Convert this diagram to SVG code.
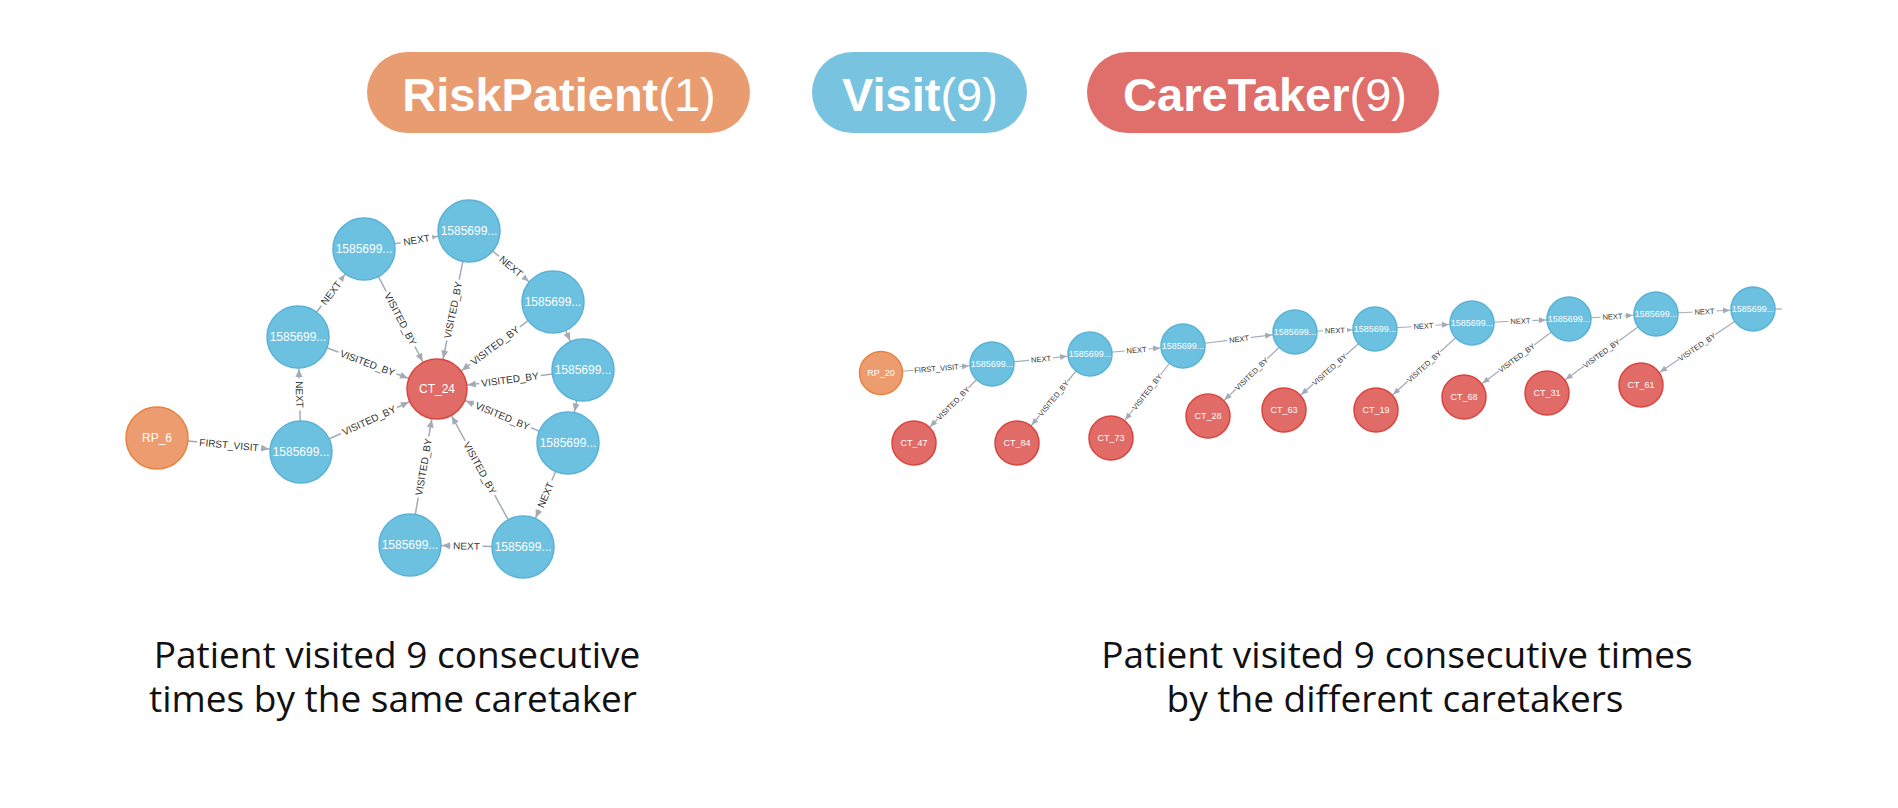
<svg xmlns="http://www.w3.org/2000/svg" width="1898" height="808" viewBox="0 0 1898 808">
<style>
.bg{fill:#fff}
.pill-t{font-family:"Liberation Sans",Arial,Helvetica,sans-serif;font-size:47px;fill:#fff;text-anchor:middle}
.b{font-weight:bold}
.vis{fill:#6CC1E0;stroke:#5BB2D6;stroke-width:1.5}
.ct{fill:#E16B67;stroke:#D8453F;stroke-width:1.5}
.rp{fill:#EC9C6E;stroke:#E7823F;stroke-width:1.5}
.ntL{font-family:"Liberation Sans",Arial,sans-serif;font-size:12px;fill:#fff;text-anchor:middle}
.ntR{font-family:"Liberation Sans",Arial,sans-serif;font-size:9px;fill:#fff;text-anchor:middle}
.eL{stroke:#A5ABB6;stroke-width:1.5;fill:none}
.eR{stroke:#A5ABB6;stroke-width:1.2;fill:none}
.lbL text{font-family:"Liberation Sans",Arial,sans-serif;font-size:10px;fill:#333;text-anchor:middle}
.lbR text{font-family:"Liberation Sans",Arial,sans-serif;font-size:7.5px;fill:#333;text-anchor:middle}
.lbL rect,.lbR rect{fill:#fff}
.cap{font-family:"Open Sans","Noto Sans",sans-serif;font-size:37px;fill:#111;text-anchor:middle}
</style>
<defs>
<marker id="aV" markerUnits="userSpaceOnUse" markerWidth="50" markerHeight="10" refX="40" refY="3.5" orient="auto" overflow="visible"><path d="M0,0 L8,3.5 L0,7 z" fill="#A5ABB6"/></marker>
<marker id="aC" markerUnits="userSpaceOnUse" markerWidth="50" markerHeight="10" refX="39" refY="3.5" orient="auto" overflow="visible"><path d="M0,0 L8,3.5 L0,7 z" fill="#A5ABB6"/></marker>
<marker id="aR" markerUnits="userSpaceOnUse" markerWidth="40" markerHeight="8" refX="30" refY="3" orient="auto" overflow="visible"><path d="M0,0 L7,3 L0,6 z" fill="#A5ABB6"/></marker>
</defs>
<rect class="bg" x="0" y="0" width="1898" height="808"/>

<g id="legend">
<g id="legend-riskpatient"><rect x="367" y="52" width="383" height="81" rx="40.5" fill="#EA9C71"/><text class="pill-t" x="559" y="111"><tspan class="b">RiskPatient</tspan>(1)</text></g>
<g id="legend-visit"><rect x="812" y="52" width="215" height="81" rx="40.5" fill="#78C3E0"/><text class="pill-t" x="920" y="111"><tspan class="b">Visit</tspan>(9)</text></g>
<g id="legend-caretaker"><rect x="1087" y="52" width="352" height="81" rx="40.5" fill="#E06E6B"/><text class="pill-t" x="1265" y="111"><tspan class="b">CareTaker</tspan>(9)</text></g>
</g>

<!-- LEFT GRAPH -->
<g id="connectors-left">
<line class="eL" x1="157" y1="438" x2="301" y2="452" marker-end="url(#aV)"/>
<line class="eL" x1="301" y1="452" x2="298" y2="337" marker-end="url(#aV)"/>
<line class="eL" x1="298" y1="337" x2="364" y2="249" marker-end="url(#aV)"/>
<line class="eL" x1="364" y1="249" x2="469" y2="231" marker-end="url(#aV)"/>
<line class="eL" x1="469" y1="231" x2="553" y2="302" marker-end="url(#aV)"/>
<line class="eL" x1="553" y1="302" x2="583" y2="370" marker-end="url(#aV)"/>
<line class="eL" x1="583" y1="370" x2="568" y2="443" marker-end="url(#aV)"/>
<line class="eL" x1="568" y1="443" x2="523" y2="547" marker-end="url(#aV)"/>
<line class="eL" x1="523" y1="547" x2="410" y2="545" marker-end="url(#aV)"/>
<line class="eL" x1="301" y1="452" x2="437" y2="389" marker-end="url(#aC)"/>
<line class="eL" x1="298" y1="337" x2="437" y2="389" marker-end="url(#aC)"/>
<line class="eL" x1="364" y1="249" x2="437" y2="389" marker-end="url(#aC)"/>
<line class="eL" x1="469" y1="231" x2="437" y2="389" marker-end="url(#aC)"/>
<line class="eL" x1="553" y1="302" x2="437" y2="389" marker-end="url(#aC)"/>
<line class="eL" x1="583" y1="370" x2="437" y2="389" marker-end="url(#aC)"/>
<line class="eL" x1="568" y1="443" x2="437" y2="389" marker-end="url(#aC)"/>
<line class="eL" x1="523" y1="547" x2="437" y2="389" marker-end="url(#aC)"/>
<line class="eL" x1="410" y1="545" x2="437" y2="389" marker-end="url(#aC)"/>
<g class="lbL">
<g transform="translate(229,445) rotate(5.5)"><rect x="-32" y="-6" width="64" height="12"/><text y="3.5">FIRST_VISIT</text></g>
<g transform="translate(299.5,394.5) rotate(88.5)"><rect x="-16" y="-6" width="32" height="12"/><text y="3.5">NEXT</text></g>
<g transform="translate(331,293) rotate(-53.1)"><rect x="-16" y="-6" width="32" height="12"/><text y="3.5">NEXT</text></g>
<g transform="translate(416.5,240) rotate(-9.7)"><rect x="-16" y="-6" width="32" height="12"/><text y="3.5">NEXT</text></g>
<g transform="translate(511,266.5) rotate(40.2)"><rect x="-16" y="-6" width="32" height="12"/><text y="3.5">NEXT</text></g>
<g transform="translate(545.5,495) rotate(-66.6)"><rect x="-16" y="-6" width="32" height="12"/><text y="3.5">NEXT</text></g>
<g transform="translate(466.5,546) rotate(1)"><rect x="-16" y="-6" width="32" height="12"/><text y="3.5">NEXT</text></g>
<g transform="translate(369,420.5) rotate(-24.9)"><rect x="-31" y="-6" width="62" height="12"/><text y="3.5">VISITED_BY</text></g>
<g transform="translate(367.5,363) rotate(20.5)"><rect x="-31" y="-6" width="62" height="12"/><text y="3.5">VISITED_BY</text></g>
<g transform="translate(400.5,319) rotate(62.5)"><rect x="-31" y="-6" width="62" height="12"/><text y="3.5">VISITED_BY</text></g>
<g transform="translate(453,310) rotate(-78.6)"><rect x="-31" y="-6" width="62" height="12"/><text y="3.5">VISITED_BY</text></g>
<g transform="translate(495,345.5) rotate(-36.9)"><rect x="-31" y="-6" width="62" height="12"/><text y="3.5">VISITED_BY</text></g>
<g transform="translate(510,379.5) rotate(-7.4)"><rect x="-31" y="-6" width="62" height="12"/><text y="3.5">VISITED_BY</text></g>
<g transform="translate(502.5,416) rotate(22.4)"><rect x="-31" y="-6" width="62" height="12"/><text y="3.5">VISITED_BY</text></g>
<g transform="translate(480,468) rotate(61.4)"><rect x="-31" y="-6" width="62" height="12"/><text y="3.5">VISITED_BY</text></g>
<g transform="translate(423.5,467) rotate(-80.2)"><rect x="-31" y="-6" width="62" height="12"/><text y="3.5">VISITED_BY</text></g>
</g>
</g>

<g id="L-RP_6"><circle class="rp" cx="157" cy="438" r="31"/><text class="ntL" x="157" y="442">RP_6</text></g>
<g id="L-CT_24"><circle class="ct" cx="437" cy="389" r="30"/><text class="ntL" x="437" y="393">CT_24</text></g>
<g id="L-V1"><circle class="vis" cx="301" cy="452" r="31"/><text class="ntL" x="301" y="456">1585699...</text></g>
<g id="L-V2"><circle class="vis" cx="298" cy="337" r="31"/><text class="ntL" x="298" y="341">1585699...</text></g>
<g id="L-V3"><circle class="vis" cx="364" cy="249" r="31"/><text class="ntL" x="364" y="253">1585699...</text></g>
<g id="L-V4"><circle class="vis" cx="469" cy="231" r="31"/><text class="ntL" x="469" y="235">1585699...</text></g>
<g id="L-V5"><circle class="vis" cx="553" cy="302" r="31"/><text class="ntL" x="553" y="306">1585699...</text></g>
<g id="L-V6"><circle class="vis" cx="583" cy="370" r="31"/><text class="ntL" x="583" y="374">1585699...</text></g>
<g id="L-V7"><circle class="vis" cx="568" cy="443" r="31"/><text class="ntL" x="568" y="447">1585699...</text></g>
<g id="L-V8"><circle class="vis" cx="523" cy="547" r="31"/><text class="ntL" x="523" y="551">1585699...</text></g>
<g id="L-V9"><circle class="vis" cx="410" cy="545" r="31"/><text class="ntL" x="410" y="549">1585699...</text></g>

<!-- RIGHT GRAPH -->
<g id="connectors-right">
<line class="eR" x1="881" y1="373" x2="992" y2="364" marker-end="url(#aR)"/>
<line class="eR" x1="992" y1="364" x2="1090" y2="354" marker-end="url(#aR)"/>
<line class="eR" x1="1090" y1="354" x2="1183" y2="346" marker-end="url(#aR)"/>
<line class="eR" x1="1183" y1="346" x2="1295" y2="332" marker-end="url(#aR)"/>
<line class="eR" x1="1295" y1="332" x2="1375" y2="329" marker-end="url(#aR)"/>
<line class="eR" x1="1375" y1="329" x2="1472" y2="323" marker-end="url(#aR)"/>
<line class="eR" x1="1472" y1="323" x2="1569" y2="319" marker-end="url(#aR)"/>
<line class="eR" x1="1569" y1="319" x2="1656" y2="314" marker-end="url(#aR)"/>
<line class="eR" x1="1656" y1="314" x2="1753" y2="309" marker-end="url(#aR)"/>
<line class="eR" x1="1770" y1="309" x2="1782" y2="309"/>
<line class="eR" x1="992" y1="364" x2="914" y2="443" marker-end="url(#aR)"/>
<line class="eR" x1="1090" y1="354" x2="1017" y2="443" marker-end="url(#aR)"/>
<line class="eR" x1="1183" y1="346" x2="1111" y2="438" marker-end="url(#aR)"/>
<line class="eR" x1="1295" y1="332" x2="1208" y2="416" marker-end="url(#aR)"/>
<line class="eR" x1="1375" y1="329" x2="1284" y2="410" marker-end="url(#aR)"/>
<line class="eR" x1="1472" y1="323" x2="1376" y2="410" marker-end="url(#aR)"/>
<line class="eR" x1="1569" y1="319" x2="1464" y2="397" marker-end="url(#aR)"/>
<line class="eR" x1="1656" y1="314" x2="1547" y2="393" marker-end="url(#aR)"/>
<line class="eR" x1="1753" y1="309" x2="1641" y2="385" marker-end="url(#aR)"/>
<g class="lbR">
<g transform="translate(936.5,368.5) rotate(-4.6)"><rect x="-23" y="-4.5" width="46" height="9"/><text y="2.7">FIRST_VISIT</text></g>
<g transform="translate(1041,359) rotate(-5.8)"><rect x="-12" y="-4.5" width="24" height="9"/><text y="2.7">NEXT</text></g>
<g transform="translate(1136.5,350) rotate(-4.9)"><rect x="-12" y="-4.5" width="24" height="9"/><text y="2.7">NEXT</text></g>
<g transform="translate(1239,339) rotate(-7.1)"><rect x="-12" y="-4.5" width="24" height="9"/><text y="2.7">NEXT</text></g>
<g transform="translate(1335,330.5) rotate(-2.1)"><rect x="-12" y="-4.5" width="24" height="9"/><text y="2.7">NEXT</text></g>
<g transform="translate(1423.5,326) rotate(-3.5)"><rect x="-12" y="-4.5" width="24" height="9"/><text y="2.7">NEXT</text></g>
<g transform="translate(1520.5,321) rotate(-2.4)"><rect x="-12" y="-4.5" width="24" height="9"/><text y="2.7">NEXT</text></g>
<g transform="translate(1612.5,316.5) rotate(-3.3)"><rect x="-12" y="-4.5" width="24" height="9"/><text y="2.7">NEXT</text></g>
<g transform="translate(1704.5,311.5) rotate(-3)"><rect x="-12" y="-4.5" width="24" height="9"/><text y="2.7">NEXT</text></g>
<g transform="translate(953,403.5) rotate(-45.4)"><rect x="-22" y="-4.5" width="44" height="9"/><text y="2.7">VISITED_BY</text></g>
<g transform="translate(1053.5,398.5) rotate(-50.6)"><rect x="-22" y="-4.5" width="44" height="9"/><text y="2.7">VISITED_BY</text></g>
<g transform="translate(1147,392) rotate(-52)"><rect x="-22" y="-4.5" width="44" height="9"/><text y="2.7">VISITED_BY</text></g>
<g transform="translate(1251.5,374) rotate(-44)"><rect x="-22" y="-4.5" width="44" height="9"/><text y="2.7">VISITED_BY</text></g>
<g transform="translate(1329.5,369.5) rotate(-41.7)"><rect x="-22" y="-4.5" width="44" height="9"/><text y="2.7">VISITED_BY</text></g>
<g transform="translate(1424,366.5) rotate(-42.2)"><rect x="-22" y="-4.5" width="44" height="9"/><text y="2.7">VISITED_BY</text></g>
<g transform="translate(1516.5,358) rotate(-36.6)"><rect x="-22" y="-4.5" width="44" height="9"/><text y="2.7">VISITED_BY</text></g>
<g transform="translate(1601.5,353.5) rotate(-36)"><rect x="-22" y="-4.5" width="44" height="9"/><text y="2.7">VISITED_BY</text></g>
<g transform="translate(1697,347) rotate(-34.2)"><rect x="-22" y="-4.5" width="44" height="9"/><text y="2.7">VISITED_BY</text></g>
</g>
</g>

<g id="R-RP_20"><circle class="rp" cx="881" cy="373" r="21.5"/><text class="ntR" x="881" y="376">RP_20</text></g>
<g id="R-V1"><circle class="vis" cx="992" cy="364" r="22"/><text class="ntR" x="992" y="367">1585699...</text></g>
<g id="R-V2"><circle class="vis" cx="1090" cy="354" r="22"/><text class="ntR" x="1090" y="357">1585699...</text></g>
<g id="R-V3"><circle class="vis" cx="1183" cy="346" r="22"/><text class="ntR" x="1183" y="349">1585699...</text></g>
<g id="R-V4"><circle class="vis" cx="1295" cy="332" r="22"/><text class="ntR" x="1295" y="335">1585699...</text></g>
<g id="R-V5"><circle class="vis" cx="1375" cy="329" r="22"/><text class="ntR" x="1375" y="332">1585699...</text></g>
<g id="R-V6"><circle class="vis" cx="1472" cy="323" r="22"/><text class="ntR" x="1472" y="326">1585699...</text></g>
<g id="R-V7"><circle class="vis" cx="1569" cy="319" r="22"/><text class="ntR" x="1569" y="322">1585699...</text></g>
<g id="R-V8"><circle class="vis" cx="1656" cy="314" r="22"/><text class="ntR" x="1656" y="317">1585699...</text></g>
<g id="R-V9"><circle class="vis" cx="1753" cy="309" r="22"/><text class="ntR" x="1753" y="312">1585699...</text></g>
<g id="R-CT_47"><circle class="ct" cx="914" cy="443" r="22"/><text class="ntR" x="914" y="446">CT_47</text></g>
<g id="R-CT_84"><circle class="ct" cx="1017" cy="443" r="22"/><text class="ntR" x="1017" y="446">CT_84</text></g>
<g id="R-CT_73"><circle class="ct" cx="1111" cy="438" r="22"/><text class="ntR" x="1111" y="441">CT_73</text></g>
<g id="R-CT_28"><circle class="ct" cx="1208" cy="416" r="22"/><text class="ntR" x="1208" y="419">CT_28</text></g>
<g id="R-CT_63"><circle class="ct" cx="1284" cy="410" r="22"/><text class="ntR" x="1284" y="413">CT_63</text></g>
<g id="R-CT_19"><circle class="ct" cx="1376" cy="410" r="22"/><text class="ntR" x="1376" y="413">CT_19</text></g>
<g id="R-CT_68"><circle class="ct" cx="1464" cy="397" r="22"/><text class="ntR" x="1464" y="400">CT_68</text></g>
<g id="R-CT_31"><circle class="ct" cx="1547" cy="393" r="22"/><text class="ntR" x="1547" y="396">CT_31</text></g>
<g id="R-CT_61"><circle class="ct" cx="1641" cy="385" r="22"/><text class="ntR" x="1641" y="388">CT_61</text></g>

<g id="captions">
<text class="cap" x="397" y="668">Patient visited 9 consecutive</text>
<text class="cap" x="393" y="712">times by the same caretaker</text>
<text class="cap" x="1397" y="668">Patient visited 9 consecutive times</text>
<text class="cap" x="1395" y="712">by the different caretakers</text>
</g>
</svg>
